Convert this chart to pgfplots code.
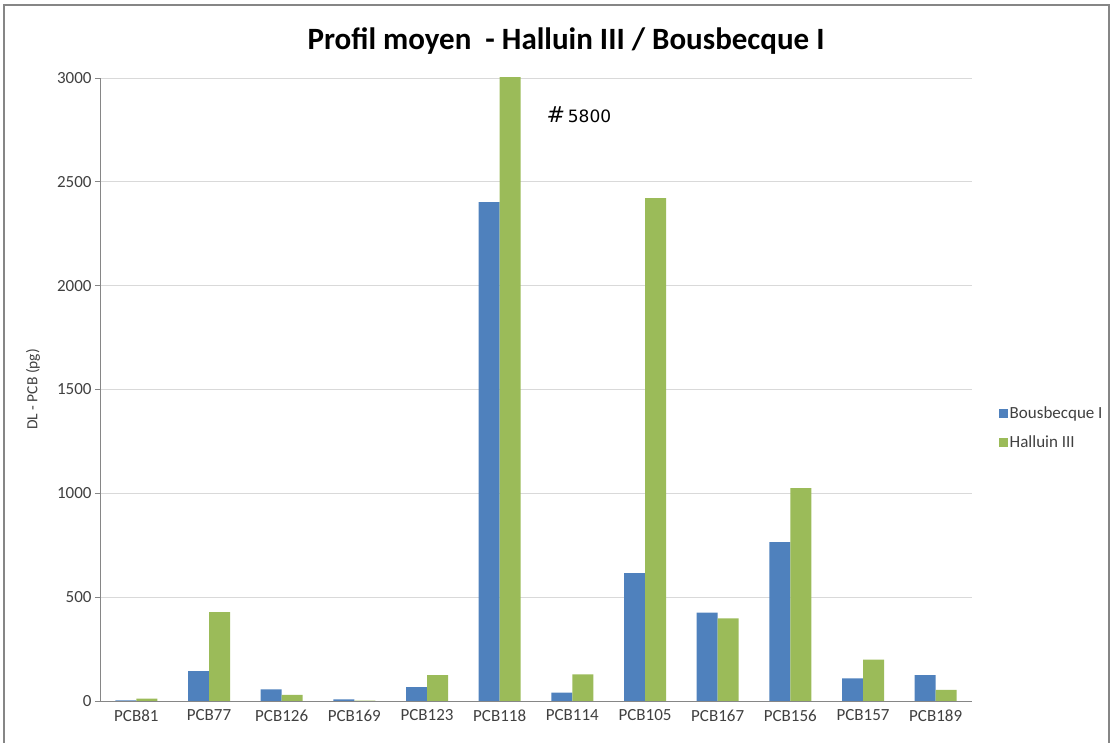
\documentclass[border=0pt]{standalone}
\usepackage{pgfplots}
\pgfplotsset{compat=1.18}
\usepackage{fontspec}
\setmainfont{Carlito}
\newfontfamily\annfont{DejaVu Sans}
\definecolor{xlblue}{HTML}{4F81BD}
\definecolor{xlgreen}{HTML}{9BBB59}
\definecolor{axgray}{HTML}{868686}
\definecolor{gridgray}{HTML}{D9D9D9}
\definecolor{txtgray}{HTML}{404040}
\begin{document}
\begin{tikzpicture}
\path[use as bounding box] (0bp,0bp) rectangle (1112bp,743bp);
\draw[color=axgray, line width=1.2bp] (4bp,-5bp) rectangle (1109bp,738bp);
\node[font=\fontsize{31bp}{35bp}\selectfont\bfseries, anchor=base] at (566bp,693bp) {Profil moyen\ \ - Halluin III / Bousbecque I};
\begin{axis}[
  at={(100bp,42bp)}, anchor=south west,
  scale only axis, width=872bp, height=623bp,
  ybar=0pt, bar width=21bp,
  xmin=-0.5, xmax=11.5, ymin=0, ymax=3000,
  xtick={0,...,11},
  xticklabels={PCB81,PCB77,PCB126,PCB169,PCB123,PCB118,PCB114,PCB105,PCB167,PCB156,PCB157,PCB189},
  minor xtick={-0.5,0.5,...,11.5},
  ytick={0,500,...,3000},
  axis x line*=bottom, axis y line*=left,
  axis line style={axgray, line width=0.9bp},
  tick align=outside,
  major tick length=5bp, minor tick length=5bp,
  xtick style={draw=none},
  minor x tick style={axgray, line width=0.9bp},
  ytick style={axgray, line width=0.9bp},
  ymajorgrids, grid style={gridgray, line width=0.9bp},
  tick label style={font=\fontsize{17bp}{19bp}\selectfont, text=txtgray},
  /pgf/number format/assume math mode=true,
  /pgf/number format/set thousands separator={},
  ylabel={DL - PCB (pg)},
  every axis y label/.style={at={(rel axis cs:-0.0768,0.5)}, rotate=90, anchor=center, font=\fontsize{15.5bp}{17bp}\selectfont, text=txtgray},
  legend style={at={(1.027,0.438)}, anchor=west, draw=none, fill=none,
     font=\fontsize{17bp}{19bp}\selectfont, text=txtgray, row sep=12bp,
     legend cell align=left},
  legend image code/.code={\fill[#1] (0bp,-4.5bp) rectangle (9bp,4.5bp);},
  clip=true,
]
\addplot[fill=xlblue, draw=none] coordinates {
(0,3) (1,144) (2,56) (3,8) (4,67) (5,2402) (6,40) (7,616) (8,425) (9,765) (10,109) (11,125)};
\addplot[fill=xlgreen, draw=none] coordinates {
(0,12) (1,428) (2,29) (3,2) (4,125) (5,5800) (6,128) (7,2421) (8,398) (9,1025) (10,199) (11,53)};
\legend{Bousbecque I, Halluin III}
\node[font=\annfont\fontsize{17bp}{19bp}\selectfont, anchor=center] at (axis cs:6.09,2825) {{\fontsize{22bp}{24bp}\selectfont\textit{\#}}\,5800};
\end{axis}
\end{tikzpicture}
\end{document}
